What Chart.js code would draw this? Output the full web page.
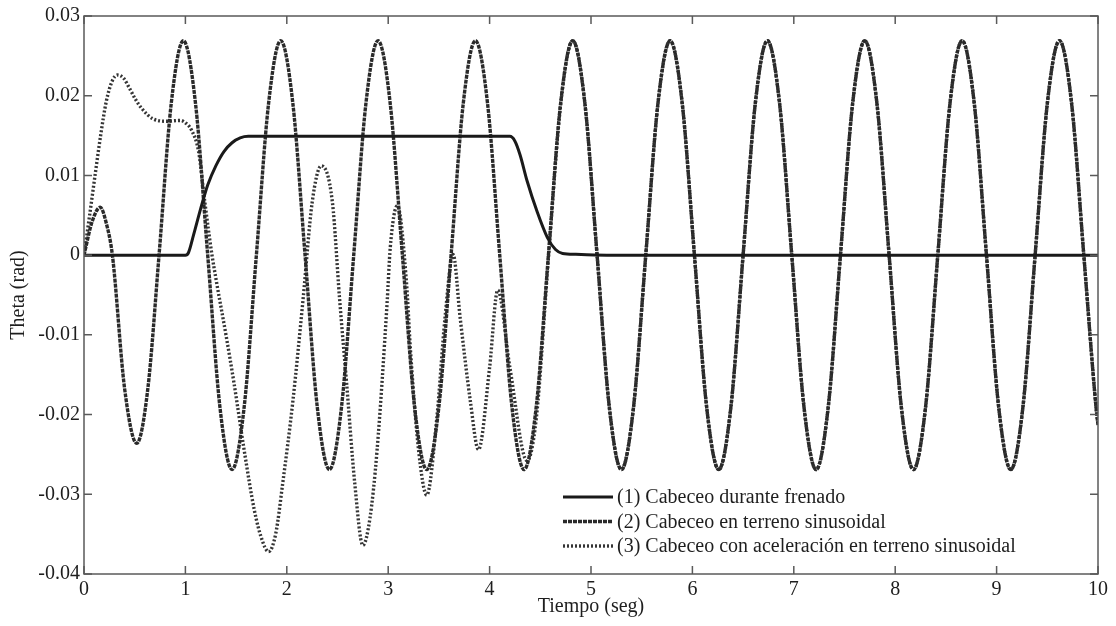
<!DOCTYPE html>
<html>
<head>
<meta charset="utf-8">
<script src="https://cdn.jsdelivr.net/npm/chart.js@4.4.1/dist/chart.umd.min.js"></script>
<style>
  html, body { margin: 0; padding: 0; background: #fff; }
  #wrap { width: 1116px; height: 626px; }
</style>
</head>
<body>
<div id="wrap"><canvas id="chart" width="1116" height="626"></canvas></div>
<script>
// Series values, as [tiempo (seg), theta (rad)]
const frenado = [
  [0, 0], [1.0, 0], [1.03, 0.0003], [1.08, 0.0025], [1.15, 0.0058], [1.22, 0.0088],
  [1.30, 0.0112], [1.38, 0.0130], [1.46, 0.0141], [1.54, 0.0147], [1.62, 0.0149],
  [4.20, 0.0149], [4.25, 0.0143], [4.30, 0.0126], [4.37, 0.0093], [4.47, 0.0054],
  [4.57, 0.0022], [4.65, 0.0007], [4.72, 0.0002], [4.85, 0.0001], [5.2, 0], [10, 0]
];

const terrenoInicio = [
  [0, 0], [0.08, 0.0042], [0.16, 0.0060], [0.22, 0.0040], [0.28, 0], [0.40, -0.0167],
  [0.52, -0.0236], [0.63, -0.0167], [0.74, 0], [0.86, 0.019],
  [0.98, 0.0269], [1.10, 0.019], [1.22, 0], [1.34, -0.019], [1.46, -0.0269], [1.58, -0.019],
  [1.70, 0], [1.82, 0.019], [1.94, 0.0269], [2.06, 0.019], [2.18, 0], [2.30, -0.019],
  [2.42, -0.0269], [2.54, -0.019], [2.66, 0], [2.78, 0.019], [2.90, 0.0269], [3.02, 0.019],
  [3.14, 0], [3.26, -0.019], [3.38, -0.0269], [3.50, -0.019], [3.62, 0], [3.74, 0.019],
  [3.86, 0.0269], [3.98, 0.019], [4.10, 0], [4.22, -0.019], [4.34, -0.0269], [4.46, -0.019],
  [4.58, 0], [4.70, 0.019]
];

const aceleracionInicio = [
  [0, 0], [0.05, 0.0045], [0.11, 0.0101], [0.165, 0.0151], [0.22, 0.0193], [0.28, 0.0219],
  [0.33, 0.0226], [0.39, 0.0222], [0.45, 0.0209], [0.51, 0.0195], [0.57, 0.0184],
  [0.68, 0.0171], [0.82, 0.0168], [0.95, 0.0169], [1.0, 0.0166], [1.06, 0.0157],
  [1.13, 0.0130], [1.19, 0.0068], [1.26, 0.0002], [1.31, -0.0036], [1.40, -0.0100],
  [1.48, -0.0161], [1.58, -0.0245], [1.68, -0.0320], [1.75, -0.0355], [1.82, -0.0372],
  [1.89, -0.0350], [1.96, -0.0286], [2.06, -0.0183], [2.16, -0.0056], [2.25, 0.0066],
  [2.34, 0.0112], [2.45, 0.0066], [2.52, -0.0054], [2.59, -0.0161], [2.67, -0.0286],
  [2.75, -0.0364], [2.82, -0.0330], [2.89, -0.0245], [2.99, -0.0058], [3.02, 0.0009],
  [3.09, 0.0062], [3.18, -0.0034], [3.22, -0.0120], [3.30, -0.0245], [3.38, -0.0301],
  [3.48, -0.0204], [3.56, -0.0079], [3.64, 0.0001], [3.71, -0.0079], [3.81, -0.0183],
  [3.89, -0.0244], [4.00, -0.0141], [4.08, -0.0044], [4.20, -0.0141], [4.37, -0.0258],
  [4.46, -0.0205], [4.58, -0.0004], [4.70, 0.0188]
];

// oscillation shared by series 2 and 3 once the transient has died out
const regimen = [
  [4.82, 0.0269], [4.94, 0.019], [5.06, 0], [5.18, -0.019], [5.30, -0.0269], [5.42, -0.019],
  [5.54, 0], [5.66, 0.019], [5.78, 0.0269], [5.90, 0.019], [6.02, 0], [6.14, -0.019],
  [6.26, -0.0269], [6.38, -0.019], [6.50, 0], [6.62, 0.019], [6.74, 0.0269], [6.86, 0.019],
  [6.98, 0], [7.10, -0.019], [7.22, -0.0269], [7.34, -0.019], [7.46, 0], [7.58, 0.019],
  [7.70, 0.0269], [7.82, 0.019], [7.94, 0], [8.06, -0.019], [8.18, -0.0269], [8.30, -0.019],
  [8.42, 0], [8.54, 0.019], [8.66, 0.0269], [8.78, 0.019], [8.90, 0], [9.02, -0.019],
  [9.14, -0.0269], [9.26, -0.019], [9.38, 0], [9.50, 0.019], [9.62, 0.0269], [9.74, 0.019],
  [9.86, 0], [9.98, -0.019], [10.0, -0.0213]
];

const seriesLabels = [
  '(1) Cabeceo durante frenado',
  '(2) Cabeceo en terreno sinusoidal',
  '(3) Cabeceo con aceleración en terreno sinusoidal'
];
const xTicks = [0, 1, 2, 3, 4, 5, 6, 7, 8, 9, 10];
const yTicks = [-0.04, -0.03, -0.02, -0.01, 0, 0.01, 0.02, 0.03];

const FONT = '"Liberation Serif", "Times New Roman", serif';
const FRAME = '#5a5a5a';
const TEXT = '#1e1e1e';

// Box with inward ticks on all four sides
const framePlugin = {
  id: 'frame',
  afterDraw(chart) {
    const { ctx, chartArea: a, scales } = chart;
    const len = 8;
    ctx.save();
    ctx.strokeStyle = FRAME;
    ctx.lineWidth = 1.5;
    ctx.strokeRect(a.left, a.top, a.right - a.left, a.bottom - a.top);
    ctx.beginPath();
    xTicks.forEach(v => {
      const px = scales.x.getPixelForValue(v);
      ctx.moveTo(px, a.bottom); ctx.lineTo(px, a.bottom - len);
      ctx.moveTo(px, a.top); ctx.lineTo(px, a.top + len);
    });
    yTicks.forEach(v => {
      const py = scales.y.getPixelForValue(v);
      ctx.moveTo(a.left, py); ctx.lineTo(a.left + len, py);
      ctx.moveTo(a.right, py); ctx.lineTo(a.right - len, py);
    });
    ctx.stroke();
    ctx.restore();
  }
};

// Legend drawn inside the plot, lower right
const legendPlugin = {
  id: 'insideLegend',
  afterDraw(chart) {
    const { ctx, chartArea: a } = chart;
    const x0 = a.left + 479, x1 = a.left + 529;
    const y0 = a.bottom - 77, gap = 24.5;
    ctx.save();
    ctx.font = '20px ' + FONT;
    ctx.textBaseline = 'middle';
    ctx.fillStyle = TEXT;
    chart.data.datasets.forEach((ds, i) => {
      const y = y0 + i * gap;
      ctx.strokeStyle = ds.borderColor;
      ctx.lineWidth = ds.borderWidth;
      ctx.setLineDash(ds.borderDash || []);
      ctx.beginPath();
      ctx.moveTo(x0, y); ctx.lineTo(x1, y);
      ctx.stroke();
      ctx.setLineDash([]);
      ctx.fillText(ds.label, x1 + 4, y + 1);
    });
    ctx.restore();
  }
};

function initChart() {
  const ctx = document.getElementById('chart').getContext('2d');
  new Chart(ctx, {
    type: 'line',
    data: {
      datasets: [
        {
          label: seriesLabels[0],
          data: frenado,
          borderColor: '#1a1a1a',
          borderWidth: 3,
          borderDash: []
        },
        {
          label: seriesLabels[1],
          data: terrenoInicio.concat(regimen),
          borderColor: '#2a2a2a',
          borderWidth: 3.4,
          borderDash: [4, 1]
        },
        {
          label: seriesLabels[2],
          data: aceleracionInicio.concat(regimen),
          borderColor: '#353535',
          borderWidth: 3.4,
          borderDash: [2, 2]
        }
      ]
    },
    options: {
      responsive: false,
      animation: false,
      elements: {
        point: { radius: 0 },
        line: { cubicInterpolationMode: 'monotone', fill: false }
      },
      layout: { padding: { top: 14, right: 18, left: 0, bottom: 0 } },
      plugins: {
        legend: { display: false },
        tooltip: { enabled: false }
      },
      scales: {
        x: {
          type: 'linear',
          min: 0,
          max: 10,
          grid: { display: false, drawTicks: false },
          border: { display: false },
          afterFit: s => { s.height = 52; },
          afterBuildTicks: s => { s.ticks = xTicks.map(v => ({ value: v })); },
          ticks: {
            padding: 4,
            maxRotation: 0,
            color: TEXT,
            font: { family: FONT, size: 20 }
          },
          title: {
            display: true,
            text: 'Tiempo (seg)',
            color: TEXT,
            font: { family: FONT, size: 20 },
            padding: { top: 7, bottom: 7 }
          }
        },
        y: {
          type: 'linear',
          min: -0.04,
          max: 0.03,
          grid: { display: false, drawTicks: false },
          border: { display: false },
          afterFit: s => { s.width = 84; },
          afterBuildTicks: s => { s.ticks = yTicks.map(v => ({ value: v })); },
          ticks: {
            padding: 4,
            color: TEXT,
            font: { family: FONT, size: 20 },
            callback: v => Math.abs(v) < 1e-9 ? '0' : v.toFixed(2)
          },
          title: {
            display: true,
            text: 'Theta (rad)',
            color: TEXT,
            font: { family: FONT, size: 20 },
            padding: { top: 7, bottom: 7 }
          }
        }
      }
    },
    plugins: [framePlugin, legendPlugin]
  });
}

document.addEventListener('DOMContentLoaded', initChart);
</script>
</body>
</html>
